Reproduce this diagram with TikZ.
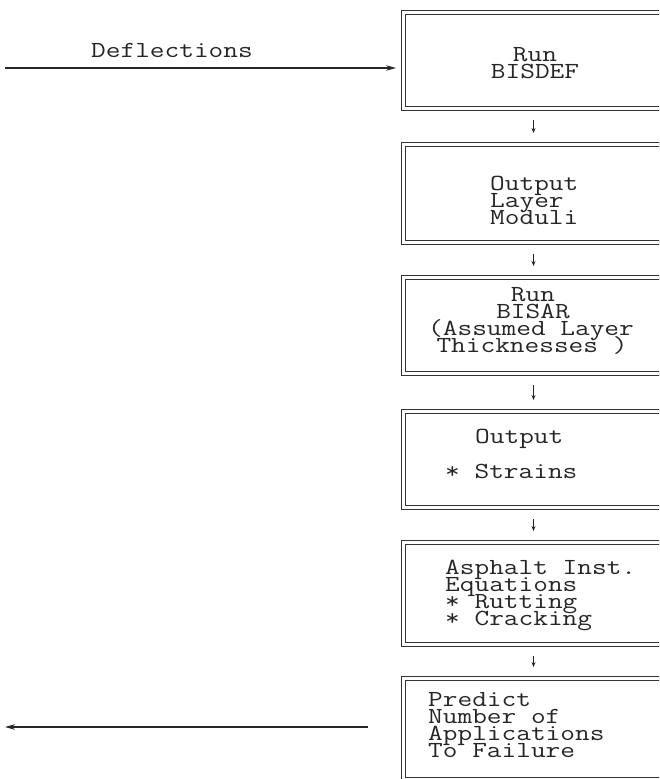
\documentclass[tikz,border=0pt]{standalone}
\usepackage{graphicx}
\usetikzlibrary{arrows.meta}
\newcommand{\hstretch}[1]{\scalebox{1.24}[1]{#1}}
\tikzset{
  box/.style={draw=black!80, double=white, double distance=2.6pt, line width=1pt,
    rectangle, inner sep=0, anchor=north west},
  txt/.style={inner sep=0, font=\fontsize{23}{23}\ttfamily, text=black!85},
  flow/.style={draw=black!85, line width=1.1pt, -{Stealth[length=10pt,width=5.5pt]}},
  smallarrow/.style={draw=black!85, line width=1pt, -{Stealth[length=5pt,width=4pt]},
    shorten <=11pt, shorten >=11pt}
}
\begin{document}
\begin{tikzpicture}[x=1pt,y=-1pt]
\clip (0,0) rectangle (659,779);
\fill[white] (0,0) rectangle (659,779);
% boxes
\node[box, minimum width=260pt, minimum height=96pt] (b1) at (403,12) {};
\node[box, minimum width=260pt, minimum height=98pt] (b2) at (403,144) {};
\node[box, minimum width=260pt, minimum height=96pt] (b3) at (403,277) {};
\node[box, minimum width=260pt, minimum height=96pt] (b4) at (403,411) {};
\node[box, minimum width=260pt, minimum height=102pt] (b5) at (403,542) {};
\node[box, minimum width=260pt, minimum height=101pt] (b6) at (403,678) {};
% texts
\node[txt, anchor=base] (t1a) at (535,61) {\hstretch{Run}};
\node[txt, anchor=base] (t1b) at (535,78) {\hstretch{BISDEF}};
\node[txt, anchor=base west] (t2a) at (490,190) {\hstretch{Output}};
\node[txt, anchor=base west] (t2b) at (490,207) {\hstretch{Layer}};
\node[txt, anchor=base west] (t2c) at (490,224) {\hstretch{Moduli}};
\node[txt, anchor=base] (t3a) at (533,301) {\hstretch{Run}};
\node[txt, anchor=base] (t3b) at (533,318) {\hstretch{BISAR}};
\node[txt, anchor=base] (t3c) at (531,335) {\hstretch{(Assumed Layer}};
\node[txt, anchor=base] (t3d) at (532,352) {\hstretch{Thicknesses )}};
\node[txt, anchor=base west] (t4a) at (475,443) {\hstretch{Output}};
\node[txt, anchor=base west] (t4b) at (445,478) {\hstretch{* Strains}};
\node[txt, anchor=base west] (t5a) at (445,574) {\hstretch{Asphalt Inst.}};
\node[txt, anchor=base west] (t5b) at (445,591) {\hstretch{Equations}};
\node[txt, anchor=base west] (t5c) at (445,608) {\hstretch{* Rutting}};
\node[txt, anchor=base west] (t5d) at (445,625) {\hstretch{* Cracking}};
\node[txt, anchor=base west] (t6a) at (428,706) {\hstretch{Predict}};
\node[txt, anchor=base west] (t6b) at (428,723) {\hstretch{Number of}};
\node[txt, anchor=base west] (t6c) at (428,740) {\hstretch{Applications}};
\node[txt, anchor=base west] (t6d) at (428,757) {\hstretch{To Failure}};
% input / output arrows
\coordinate (inL) at (5,68);
\coordinate (inR) at (396,68);
\node[txt, anchor=base] (lab) at (172,57) {\hstretch{Deflections}};
\draw[flow] (inL) -- (inR);
\coordinate (outR) at (368,727);
\coordinate (outL) at (5,727);
\draw[flow] (outR) -- (outL);
% small arrows between boxes
\draw[smallarrow] (b1.south) -- (b2.north);
\draw[smallarrow] (b2.south) -- (b3.north);
\draw[smallarrow] (b3.south) -- (b4.north);
\draw[smallarrow] (b4.south) -- (b5.north);
\draw[smallarrow] (b5.south) -- (b6.north);
\end{tikzpicture}
\end{document}
